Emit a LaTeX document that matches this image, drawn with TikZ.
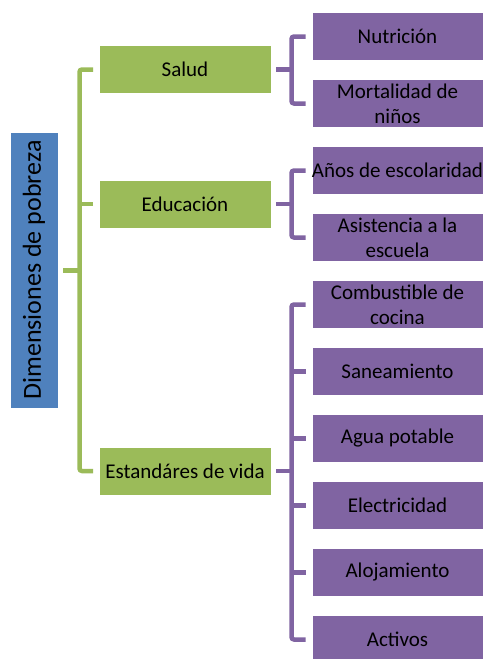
\documentclass[tikz,border=0pt]{standalone}
\usepackage{fontspec}
\setmainfont{Carlito}
\definecolor{cblue}{HTML}{4F81BD}
\definecolor{cgreen}{HTML}{9BBB59}
\definecolor{cpurple}{HTML}{8064A2}
\begin{document}
\begin{tikzpicture}[x=1pt,y=-1pt,
  rootbox/.style={fill=cblue,draw=white,line width=0.8pt,minimum width=48pt,minimum height=276pt,inner sep=0pt},
  dimbox/.style={fill=cgreen,draw=white,line width=0.8pt,minimum width=172pt,minimum height=48pt,inner sep=0pt,align=center,font=\fontsize{21}{25}\selectfont},
  indbox/.style={fill=cpurple,draw=white,line width=0.8pt,minimum width=171pt,minimum height=48pt,inner sep=0pt,align=center,font=\fontsize{21}{25}\selectfont},
  gline/.style={draw=cgreen,line width=4.5pt,rounded corners=2.5pt},
  pline/.style={draw=cpurple,line width=4.5pt,rounded corners=2.5pt}]
\useasboundingbox (0,0) rectangle (483,659);
% root
\node[rootbox] (root) at (34,270) {\rotatebox{90}{\fontsize{26}{30}\selectfont Dimensiones de pobreza}};
% dimensions
\node[dimbox] (salud) at (185,69.5) {Salud};
\node[dimbox] (edu) at (185,204) {Educación};
\node[dimbox] (vida) at (185,471) {Estandáres de vida};
% indicators
\node[indbox] (nut) at (397.5,36.5) {Nutrición};
\node[indbox] (mort) at (397.5,103.5) {Mortalidad de\\niños};
\node[indbox] (anos) at (397.5,170.5) {Años de escolaridad};
\node[indbox] (asis) at (397.5,237.5) {Asistencia a la\\escuela};
\node[indbox] (comb) at (397.5,304.5) {Combustible de\\cocina};
\node[indbox] (san) at (397.5,371.5) {Saneamiento};
\node[indbox] (agua) at (397.5,438.5) {Agua potable};
\node[indbox] (elec) at (397.5,505.5) {Electricidad};
\node[indbox] (aloj) at (397.5,572.5) {Alojamiento};
\node[indbox] (act) at (397.5,639.5) {Activos};
% green bracket
\coordinate (gv) at (79.5,270.5);
\draw[gline] ([xshift=5pt]root.east |- gv) -- (gv);
\draw[gline] ([xshift=-5.5pt]salud.west) -| (gv) |- ([xshift=-5.5pt]vida.west);
\draw[gline] ([xshift=-5.5pt]edu.west) -- (edu.west -| gv);
% purple brackets
\coordinate (pv) at (291.5,0);
\draw[pline] ([xshift=5pt]salud.east) -- (salud.east -| pv);
\draw[pline] ([xshift=-6pt]nut.west) -| (pv |- salud.east) |- ([xshift=-6pt]mort.west);
\draw[pline] ([xshift=5pt]edu.east) -- (edu.east -| pv);
\draw[pline] ([xshift=-6pt]anos.west) -| (pv |- edu.east) |- ([xshift=-6pt]asis.west);
\draw[pline] ([xshift=5pt]vida.east) -- (vida.east -| pv);
\draw[pline] ([xshift=-6pt]comb.west) -| (pv |- vida.east) |- ([xshift=-6pt]act.west);
\foreach \n in {san,agua,elec,aloj}{
  \draw[pline] ([xshift=-6pt]\n.west) -- (\n.west -| pv);
}
\end{tikzpicture}
\end{document}
